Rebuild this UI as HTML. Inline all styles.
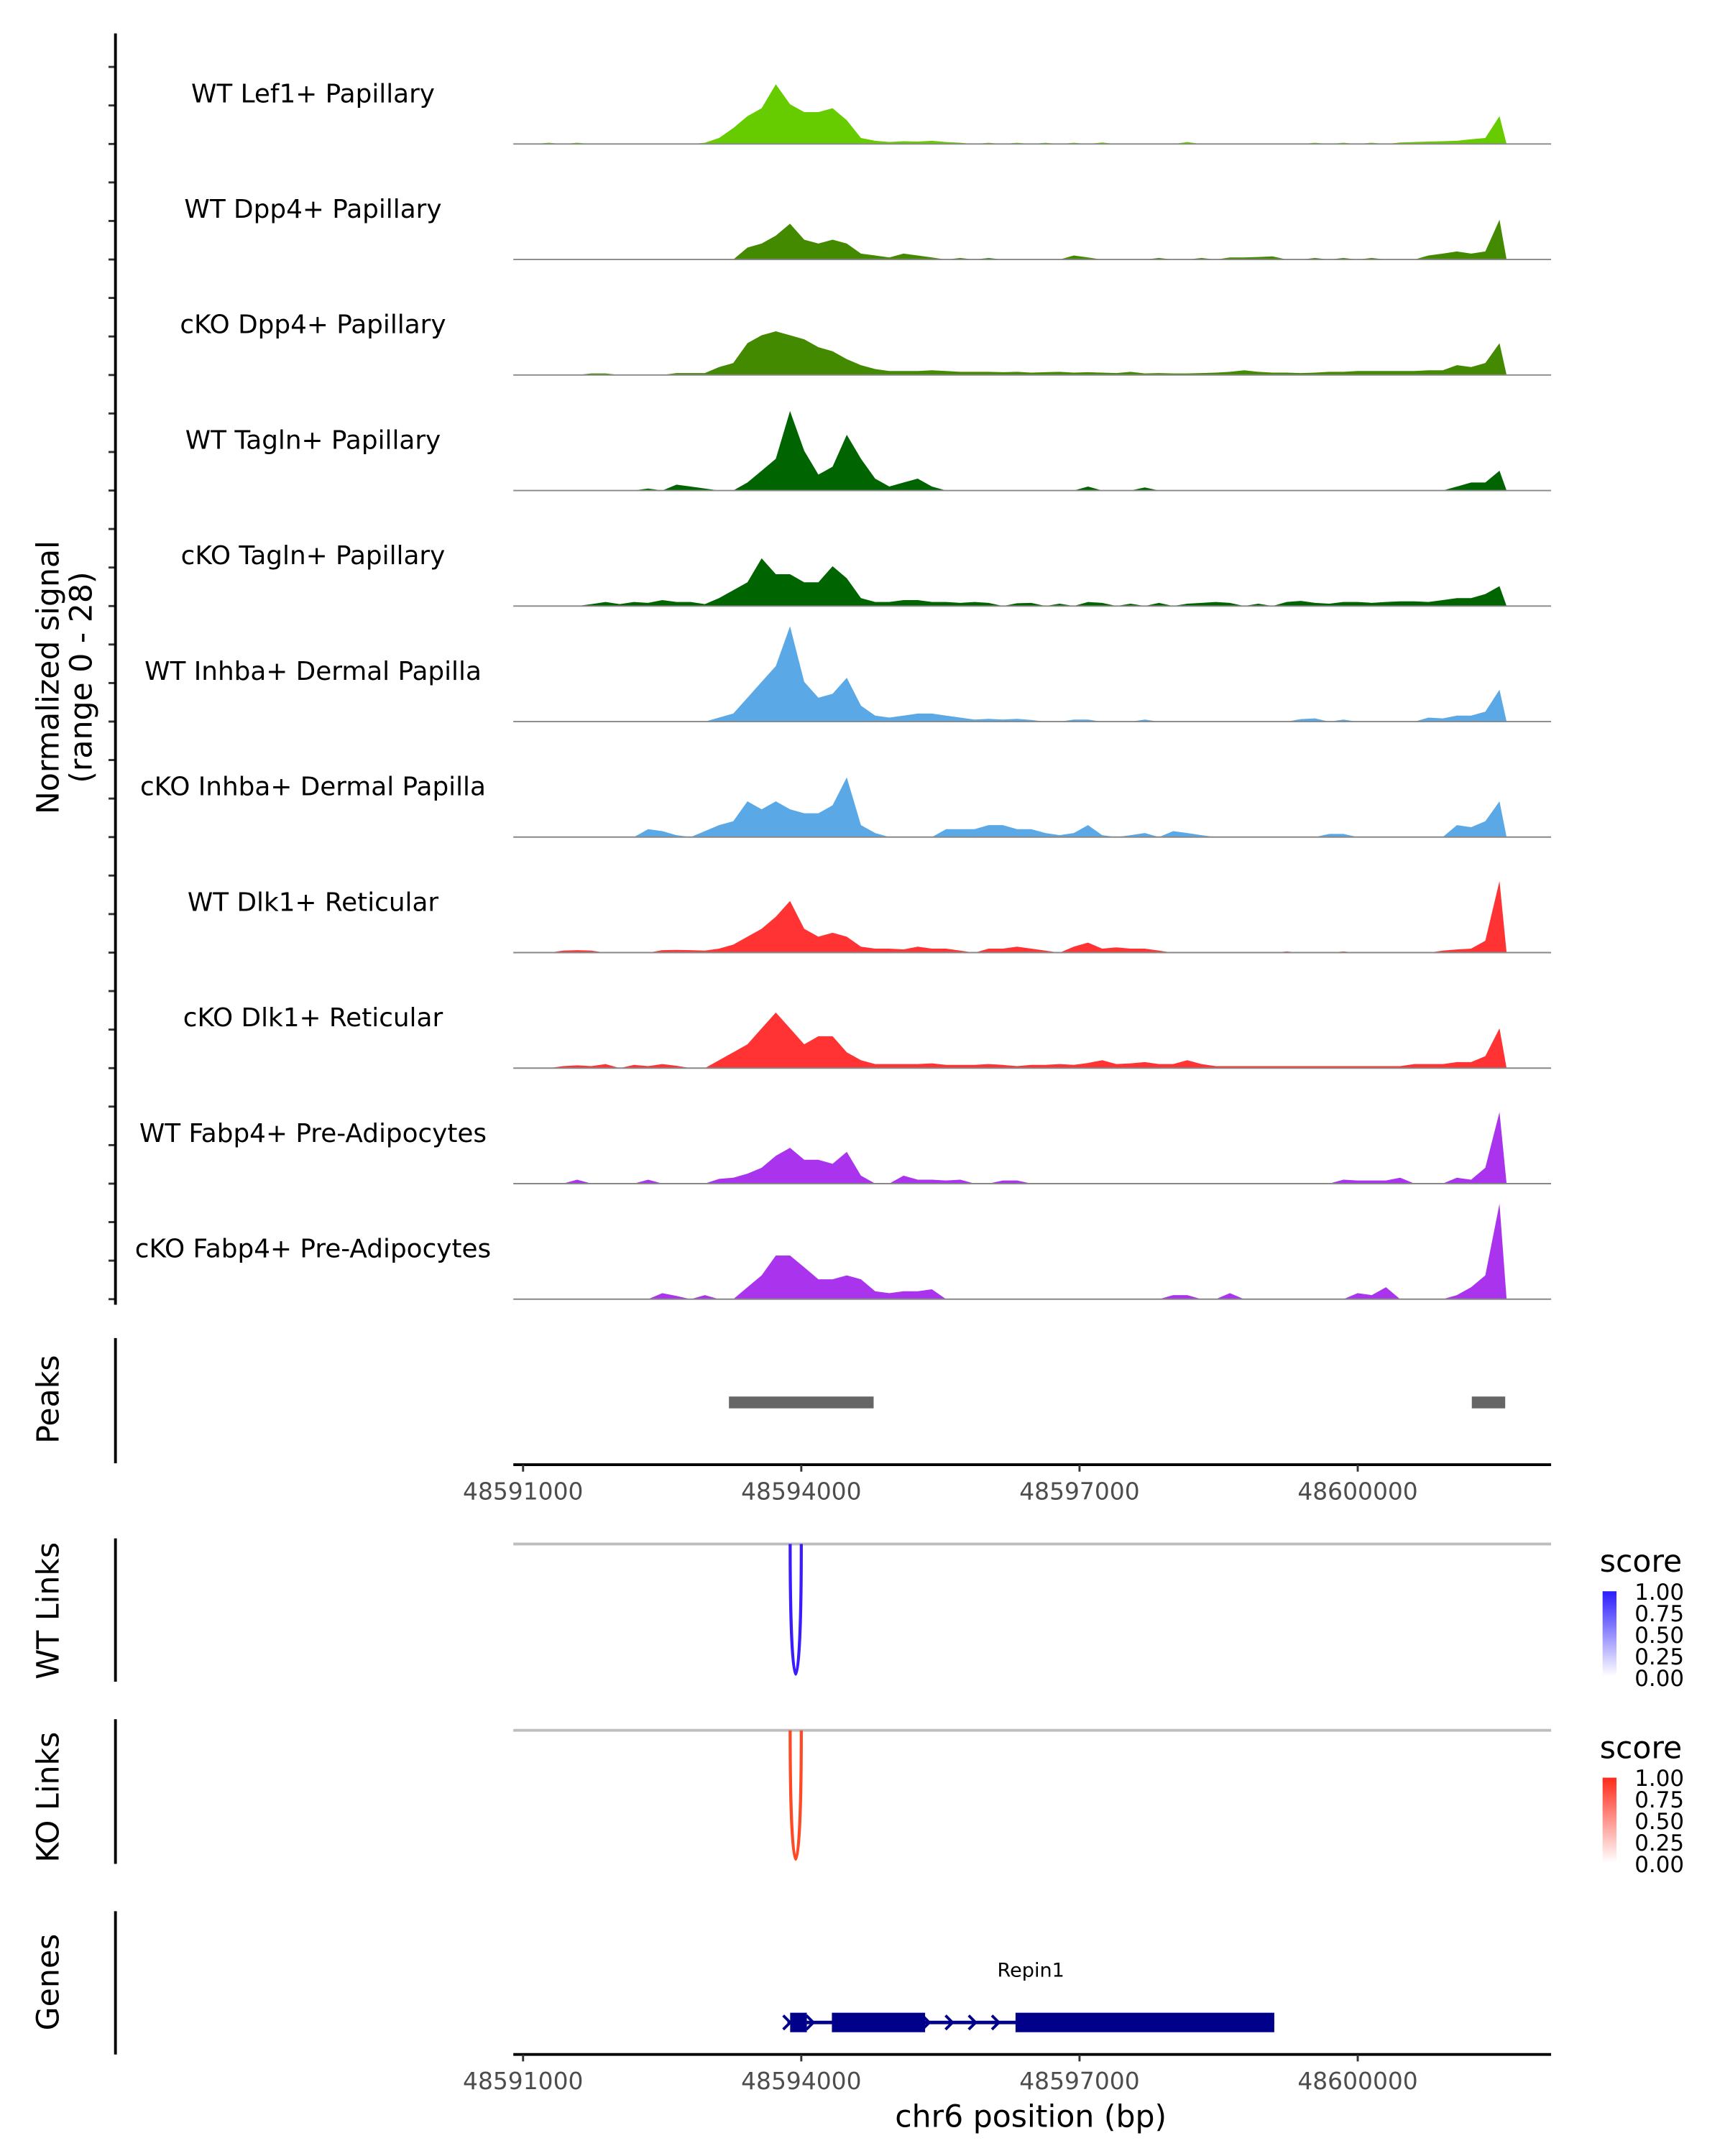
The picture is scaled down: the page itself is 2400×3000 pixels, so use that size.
<!DOCTYPE html>
<html><head><meta charset="utf-8"><style>
html,body{margin:0;padding:0;background:#fff}
svg{display:block;font-family:"DejaVu Sans","Liberation Sans",sans-serif}
</style></head><body>
<svg id="chart" width="2400" height="3000" viewBox="0 0 1240 1550" xmlns="http://www.w3.org/2000/svg">
<g id="tracks"></g>
<g id="static">
  <line x1="83" y1="24" x2="83" y2="938" stroke="#000" stroke-width="2"/>
  <text transform="translate(42,487) rotate(-90)" text-anchor="middle" font-size="22">Normalized signal</text>
  <text transform="translate(66,487) rotate(-90)" text-anchor="middle" font-size="22">(range 0 - 28)</text>

  <line x1="83" y1="962" x2="83" y2="1052" stroke="#000" stroke-width="2"/>
  <text transform="translate(42,1006) rotate(-90)" text-anchor="middle" font-size="22">Peaks</text>

  <line x1="83" y1="1106" x2="83" y2="1209" stroke="#000" stroke-width="2"/>
  <text transform="translate(42,1158) rotate(-90)" text-anchor="middle" font-size="22">WT Links</text>
  <line x1="369" y1="1110" x2="1115" y2="1110" stroke="#bebebe" stroke-width="2"/>

  <line x1="83" y1="1236" x2="83" y2="1340" stroke="#000" stroke-width="2"/>
  <text transform="translate(42,1292) rotate(-90)" text-anchor="middle" font-size="22">KO Links</text>
  <line x1="369" y1="1244" x2="1115" y2="1244" stroke="#bebebe" stroke-width="2"/>

  <line x1="83" y1="1374" x2="83" y2="1477" stroke="#000" stroke-width="2"/>
  <text transform="translate(42,1425) rotate(-90)" text-anchor="middle" font-size="22">Genes</text>
  <text x="741" y="1421" text-anchor="middle" font-size="14">Repin1</text>

  <text x="741" y="1529" text-anchor="middle" font-size="22">chr6 position (bp)</text>

  <defs>
    <linearGradient id="gblue" x1="0" y1="1" x2="0" y2="0"><stop offset="0" stop-color="#fff"/><stop offset="1" stop-color="#2a1cff"/></linearGradient>
    <linearGradient id="gred" x1="0" y1="1" x2="0" y2="0"><stop offset="0" stop-color="#fff"/><stop offset="1" stop-color="#ff2a1a"/></linearGradient>
  </defs>
  <g>
    <text x="1150" y="1130" font-size="22">score</text>
    <rect x="1152" y="1144" width="10" height="61" fill="url(#gblue)"/>
    <g font-size="16"><text x="1175" y="1150">1.00</text><text x="1175" y="1165.5">0.75</text><text x="1175" y="1181">0.50</text><text x="1175" y="1196.5">0.25</text><text x="1175" y="1212">0.00</text></g>
  </g>
  <g>
    <text x="1150" y="1264" font-size="22">score</text>
    <rect x="1152" y="1278" width="10" height="61" fill="url(#gred)"/>
    <g font-size="16"><text x="1175" y="1284">1.00</text><text x="1175" y="1299.5">0.75</text><text x="1175" y="1315">0.50</text><text x="1175" y="1330.5">0.25</text><text x="1175" y="1346">0.00</text></g>
  </g>
</g>
<g id="dyn"></g>
</svg>
<script>
// ---- data ----
const regionStart = 48590895;
const regionEnd = 48602085;
const binStart = 48590895;
const binWidth = 153;
const binCount = 70;
const signalMax = 28;
const trackNames = ["WT Lef1+ Papillary","WT Dpp4+ Papillary","cKO Dpp4+ Papillary","WT Tagln+ Papillary","cKO Tagln+ Papillary","WT Inhba+ Dermal Papilla","cKO Inhba+ Dermal Papilla","WT Dlk1+ Reticular","cKO Dlk1+ Reticular","WT Fabp4+ Pre-Adipocytes","cKO Fabp4+ Pre-Adipocytes"];
const trackColors = ["#66cc00","#438a00","#438a00","#006400","#006400","#5aa9e6","#5aa9e6","#ff3333","#ff3333","#aa33ee","#aa33ee"];
const sigLef1WT = [[2,0.3],[4,0.3],[13,0.3],[14,1.5],[15,4],[16,7],[17,9],[18,15],[19,10],[20,8],[21,8],[22,9],[23,6],[24,1.5],[25,0.8],[26,0.5],[27,0.7],[28,0.6],[29,0.8],[30,0.5],[31,0.3],[33,0.3],[35,0.3],[37,0.3],[39,0.3],[41,0.4],[47,0.5],[56,0.3],[58,0.3],[60,0.3],[62,0.4],[63,0.5],[64,0.6],[65,0.7],[66,0.8],[67,1.2],[68,1.5],[69,7]];
const sigDpp4WT = [[16,3],[17,4],[18,6],[19,9],[20,5],[21,4],[22,5],[23,4],[24,1.5],[25,1],[26,0.5],[27,1.5],[28,1],[29,0.5],[31,0.4],[33,0.4],[39,1],[40,0.5],[45,0.4],[48,0.4],[50,0.5],[51,0.5],[52,0.6],[53,0.8],[56,0.4],[58,0.4],[60,0.4],[64,1],[65,1.5],[66,2],[67,1.5],[68,2],[69,10]];
const sigDpp4KO = [[5,0.4],[6,0.4],[11,0.5],[12,0.5],[13,0.5],[14,2],[15,3],[16,8],[17,10],[18,11],[19,10],[20,9],[21,7],[22,6],[23,4],[24,2.5],[25,1.5],[26,1],[27,1],[28,1],[29,1.2],[30,1],[31,0.8],[32,0.8],[33,0.8],[34,0.7],[35,0.8],[36,0.6],[37,0.7],[38,0.8],[39,0.6],[40,0.7],[41,0.6],[42,0.5],[43,0.8],[44,0.4],[45,0.5],[46,0.4],[47,0.4],[48,0.5],[49,0.6],[50,0.8],[51,1.2],[52,0.8],[53,0.6],[54,0.6],[55,0.5],[56,0.6],[57,0.8],[58,0.8],[59,1],[60,1],[61,1],[62,1],[63,1],[64,1.2],[65,1.2],[66,2.5],[67,2],[68,3],[69,8]];
const sigTaglnWT = [[9,0.5],[11,1.5],[12,1],[13,0.5],[16,2],[17,5],[18,8],[19,20],[20,10],[21,4],[22,6],[23,14],[24,8],[25,3],[26,1],[27,2],[28,3],[29,1],[40,1],[44,0.8],[66,1],[67,2],[68,2],[69,5]];
const sigTaglnKO = [[5,0.5],[6,1],[7,0.5],[8,1],[9,0.8],[10,1.5],[11,1],[12,1],[13,0.5],[14,2],[15,4],[16,6],[17,12],[18,8],[19,8],[20,6],[21,6],[22,10],[23,7],[24,2],[25,1],[26,1],[27,1.5],[28,1.5],[29,1],[30,1],[31,0.8],[32,1],[33,0.8],[35,0.7],[36,0.8],[38,0.6],[40,1],[41,0.8],[43,0.6],[45,0.8],[47,0.6],[48,0.8],[49,1],[50,0.8],[52,0.6],[54,1],[55,1.3],[56,0.8],[57,0.6],[58,1],[59,1],[60,0.8],[61,1],[62,1.2],[63,1.2],[64,1],[65,1.5],[66,2],[67,2],[68,3],[69,5]];
const sigInhbaWT = [[14,1],[15,2],[16,6],[17,10],[18,14],[19,24],[20,10],[21,6],[22,7],[23,11],[24,4],[25,1.5],[26,1],[27,1.5],[28,2],[29,2],[30,1.5],[31,1],[32,0.5],[33,0.7],[34,0.5],[35,0.7],[36,0.4],[39,0.5],[40,0.5],[44,0.5],[55,0.6],[56,0.8],[58,0.5],[64,1],[65,0.8],[66,1.5],[67,1.5],[68,2.5],[69,8]];
const sigInhbaKO = [[9,2],[10,1.5],[11,0.5],[13,1.5],[14,3],[15,4],[16,9],[17,7],[18,9],[19,7],[20,6],[21,6],[22,8],[23,15],[24,3],[25,1],[30,2],[31,2],[32,2],[33,3],[34,3],[35,2],[36,2],[37,1],[38,0.5],[39,1],[40,3],[41,0.5],[43,0.5],[44,1],[46,1.5],[47,1],[48,0.5],[57,0.8],[58,0.8],[66,3],[67,2.5],[68,4],[69,9]];
const sigDlk1WT = [[3,0.5],[4,0.6],[5,0.5],[10,0.6],[11,0.7],[12,0.6],[13,0.5],[14,1],[15,2],[16,4],[17,6],[18,9],[19,13],[20,6],[21,4],[22,5],[23,4],[24,1.5],[25,1],[26,1],[27,0.8],[28,1.5],[29,1],[30,1],[31,0.5],[33,1],[34,1],[35,1.5],[36,1],[37,0.5],[39,1.5],[40,2.5],[41,1],[42,1.3],[43,1],[44,1],[45,0.5],[54,0.3],[58,0.3],[65,0.5],[66,0.8],[67,1],[68,3],[69,18]];
const sigDlk1KO = [[3,0.5],[4,0.7],[5,0.5],[6,1],[8,0.8],[9,0.5],[10,1],[11,0.6],[14,2],[15,4],[16,6],[17,10],[18,14],[19,10],[20,6],[21,8],[22,8],[23,4],[24,2],[25,1],[26,1],[27,1],[28,1],[29,1.2],[30,0.8],[31,0.8],[32,0.8],[33,1],[34,0.8],[35,0.5],[36,0.8],[37,0.8],[38,1],[39,0.8],[40,1.3],[41,2],[42,1],[43,1.2],[44,1.5],[45,1],[46,1],[47,2],[48,1],[49,0.5],[50,0.5],[51,0.5],[52,0.5],[53,0.5],[54,0.5],[55,0.5],[56,0.5],[57,0.5],[58,0.5],[59,0.5],[60,0.5],[61,0.5],[62,0.5],[63,1],[64,1],[65,1],[66,1.5],[67,1.5],[68,3],[69,10]];
const sigFabp4WT = [[4,1],[9,1],[14,1.2],[15,1.5],[16,2.5],[17,4],[18,7],[19,9],[20,6],[21,6],[22,5],[23,8],[24,2],[27,2],[28,1],[29,1],[30,0.8],[31,1],[34,0.8],[35,0.8],[58,1],[59,0.8],[60,0.8],[61,0.8],[62,1.5],[66,1.5],[67,1],[68,4],[69,18]];
const sigFabp4KO = [[10,1.5],[11,0.8],[13,1],[16,3],[17,6],[18,11],[19,11],[20,8],[21,5],[22,5],[23,6],[24,5],[25,2],[26,1.5],[27,2],[28,2],[29,2.5],[46,1],[47,1],[50,1.5],[59,1.5],[60,1],[61,3],[66,1],[67,3],[68,6],[69,24]];
const trackSignals = [sigLef1WT,sigDpp4WT,sigDpp4KO,sigTaglnWT,sigTaglnKO,sigInhbaWT,sigInhbaKO,sigDlk1WT,sigDlk1KO,sigFabp4WT,sigFabp4KO];
const peakStarts = [48593220, 48601230];
const peakEnds = [48594780, 48601590];
const xTicks = [48591000, 48594000, 48597000, 48600000];
const linkStarts = [48593880];
const linkEnds = [48594000];
const wtLinkScores = [1];
const koLinkScores = [1];
const exonStarts = [48593880, 48594330, 48596310];
const exonEnds = [48594060, 48595335, 48599100];
const geneStart = 48593850;
const geneEnd = 48599100;

// ---- scales ----
const NS = "http://www.w3.org/2000/svg";
const plotL = 369, plotR = 1115;
function xs(bp){ return plotL + (bp - regionStart) / (regionEnd - regionStart) * (plotR - plotL); }
const trackStep = 83.05, trackH = 80;
function baseY(t){ return 103.5 + trackStep*t; }
function ys(t, v){ return baseY(t) - v / signalMax * trackH; }
function mk(tag, attrs, parent){ const e=document.createElementNS(NS,tag); for(const k in attrs) e.setAttribute(k,attrs[k]); parent.appendChild(e); return e; }

const tracksG = document.getElementById('tracks');
const dyn = document.getElementById('dyn');

trackSignals.forEach((pairs, t) => {
  const dense = new Array(binCount).fill(0);
  pairs.forEach(p => { dense[p[0]] = p[1]; });
  const b = baseY(t);
  let d = "M" + xs(binStart) + "," + b;
  dense.forEach((v,i) => { d += " L" + xs(binStart + (i+0.5)*binWidth).toFixed(1) + "," + ys(t,v).toFixed(1); });
  d += " L" + xs(binStart + binCount*binWidth).toFixed(1) + "," + b + " Z";
  const area = mk('path', {d:d, fill:trackColors[t]}, tracksG);
  
  
  const bl = mk('line', {x1:plotL, x2:plotR, y1:b, y2:b, stroke:'#888', 'stroke-width':1}, tracksG);
  
  
  const lab = mk('text', {x:225, y:b-30, 'text-anchor':'middle', 'font-size':18.5}, tracksG);
  lab.textContent = trackNames[t];
  
  
  [0, 27.7, 55.4].forEach(off => {
    const tk = mk('line', {x1:78, x2:83, y1:b-off, y2:b-off, stroke:'#333', 'stroke-width':1.5}, tracksG);
    
    
  });
});

// peaks
peakStarts.forEach((s,i) => {
  const r = mk('rect', {x:xs(s), y:1004, width:xs(peakEnds[i])-xs(s), height:8.5, fill:'#666'}, dyn);
  
  
});

// x axes
[1053, 1477].forEach((ay, ai) => {
  const ax = mk('line', {x1:plotL, x2:plotR, y1:ay, y2:ay, stroke:'#000', 'stroke-width':2}, dyn);
  
  
  xTicks.forEach(v => {
    const tk = mk('line', {x1:xs(v), x2:xs(v), y1:ay, y2:ay+5, stroke:'#333', 'stroke-width':1.5}, dyn);
    
    
    const tl = mk('text', {x:xs(v), y:ay+25, 'text-anchor':'middle', 'font-size':17, fill:'#4d4d4d'}, dyn);
    tl.textContent = v;
    
    
  });
});

// links
function drawLinks(scores, top, depth, color, name){
  scores.forEach((sc,i) => {
    const x1 = xs(linkStarts[i]), x2 = xs(linkEnds[i]);
    const d = "M"+x1+","+top+" C"+x1+","+(top+depth*1.3)+" "+x2+","+(top+depth*1.3)+" "+x2+","+top;
    const p = mk('path', {d:d, fill:'none', stroke:color, 'stroke-width':2.2, opacity:Math.max(0.2, sc)}, dyn);
    
    
  });
}
drawLinks(wtLinkScores, 1110, 96, '#3a1cff', 'wt-link-arc');
drawLinks(koLinkScores, 1244, 95, '#ff4a26', 'ko-link-arc');

// gene model
const gl = mk('line', {x1:xs(geneStart), x2:xs(geneEnd), y1:1454, y2:1454, stroke:'#00008b', 'stroke-width':2.5}, dyn);


exonStarts.forEach((s,i) => {
  const r = mk('rect', {x:xs(s), y:1447, width:xs(exonEnds[i])-xs(s), height:14, fill:'#00008b'}, dyn);
  
  
});
for (let bp = geneStart; bp < exonStarts[2]; bp += 250) {
  if ((bp > exonStarts[0] && bp < exonEnds[0]) || (bp > exonStarts[1] && bp < exonEnds[1])) continue;
  const x = xs(bp);
  const c = mk('path', {d:"M"+(x-3)+",1449 L"+(x+2)+",1454 L"+(x-3)+",1459", fill:'none', stroke:'#00008b', 'stroke-width':2}, dyn);
  
  
}
</script>
</body></html>
